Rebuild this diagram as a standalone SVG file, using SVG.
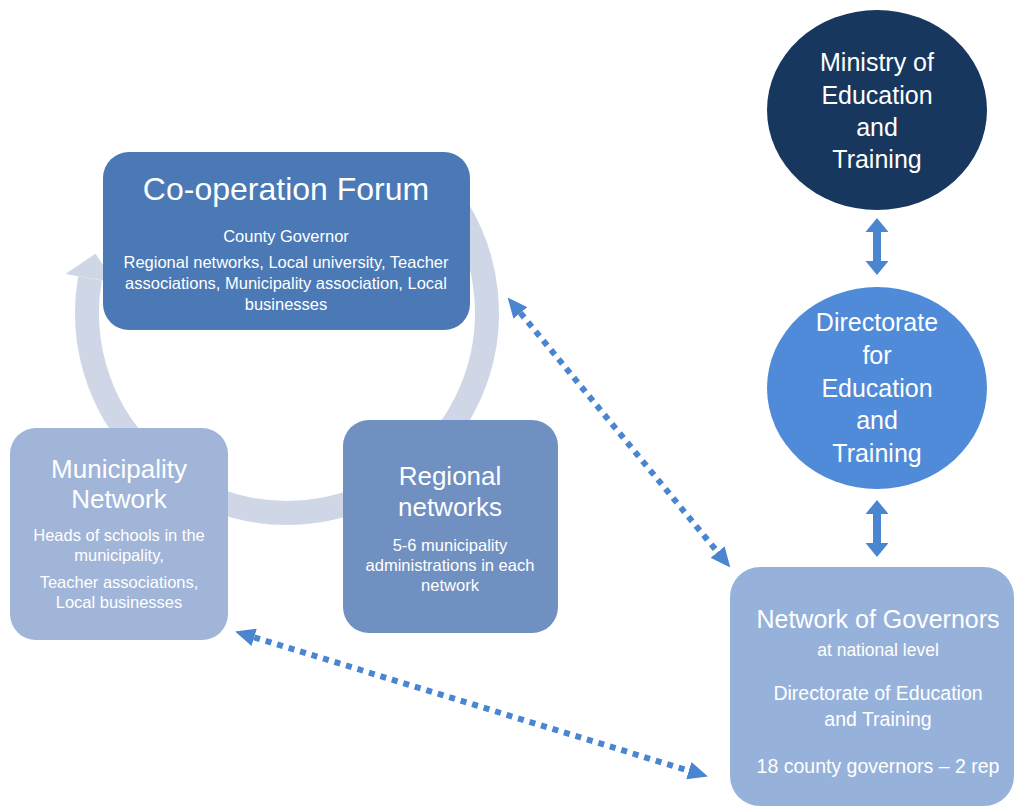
<svg xmlns="http://www.w3.org/2000/svg" width="1016" height="808" viewBox="0 0 1016 808">
  <style>
    text { font-family: "Liberation Sans", Arial, sans-serif; fill: #ffffff; text-anchor: middle; }
    .title { font-size: 26px; }
    .big { font-size: 32px; }
    .body { font-size: 16.5px; }
    .gov { font-size: 19.5px; }
    .circ { font-size: 25px; }
    .dots { stroke: #4a86d0; stroke-width: 6; stroke-dasharray: 6 6; fill: none; }
    .blk { fill: #4a86d0; }
  </style>
  <defs>
    <marker id="ah" viewBox="0 0 20 18" refX="0" refY="9" markerWidth="20" markerHeight="18" markerUnits="userSpaceOnUse" orient="auto-start-reverse">
      <path d="M0,0 L20,9 L0,18 z" fill="#4a86d0"/>
    </marker>
  </defs>
  <rect width="1016" height="808" fill="#ffffff"/>

  <g id="cycle">
    <path d="M456.6,207.0 A200,200 0 1 1 90.0,278.3" fill="none" stroke="#cfd7e7" stroke-width="24"/>
    <polygon points="65.4,274 95.5,253.7 114.6,282.6" fill="#cfd7e7"/>
  </g>

  <g id="coop-forum">
    <rect x="103" y="152" width="367" height="178" rx="26" fill="#4a79b5"/>
    <text class="big" x="286" y="200">Co-operation Forum</text>
    <text class="body" x="286" y="242">County Governor</text>
    <text class="body" x="286" y="268">Regional networks, Local university, Teacher</text>
    <text class="body" x="286" y="289">associations, Municipality association, Local</text>
    <text class="body" x="286" y="310">businesses</text>
  </g>

  <g id="municipality-network">
    <rect x="10" y="428" width="218" height="212" rx="26" fill="#a1b5d9"/>
    <text class="title" x="119" y="478">Municipality</text>
    <text class="title" x="119" y="508">Network</text>
    <text class="body" x="119" y="541">Heads of schools in the</text>
    <text class="body" x="119" y="561">municipality,</text>
    <text class="body" x="119" y="588">Teacher associations,</text>
    <text class="body" x="119" y="608">Local businesses</text>
  </g>

  <g id="regional-networks">
    <rect x="343" y="420" width="215" height="213" rx="26" fill="#7090c2"/>
    <text class="title" x="450" y="485">Regional</text>
    <text class="title" x="450" y="516">networks</text>
    <text class="body" x="450" y="551">5-6 municipality</text>
    <text class="body" x="450" y="571">administrations in each</text>
    <text class="body" x="450" y="591">network</text>
  </g>

  <g id="ministry">
    <ellipse cx="877" cy="110" rx="110" ry="100" fill="#17375e"/>
    <text class="circ" x="877" y="71">Ministry of</text>
    <text class="circ" x="877" y="104">Education</text>
    <text class="circ" x="877" y="136">and</text>
    <text class="circ" x="877" y="168">Training</text>
  </g>

  <g id="directorate">
    <ellipse cx="877" cy="388" rx="110" ry="101" fill="#4f8bd8"/>
    <text class="circ" x="877" y="331">Directorate</text>
    <text class="circ" x="877" y="364">for</text>
    <text class="circ" x="877" y="397">Education</text>
    <text class="circ" x="877" y="429">and</text>
    <text class="circ" x="877" y="462">Training</text>
  </g>

  <g id="network-of-governors">
    <rect x="730" y="567" width="284" height="239" rx="30" fill="#97b2da"/>
    <text x="878" y="628" style="font-size:25px">Network of Governors</text>
    <text class="gov" x="878" y="656" style="font-size:17.5px">at national level</text>
    <text class="gov" x="878" y="700">Directorate of Education</text>
    <text class="gov" x="878" y="726">and Training</text>
    <text class="gov" x="878" y="773">18 county governors – 2 rep</text>
  </g>

  <g id="connectors">
    <polygon class="blk" points="877,218 888.5,232 881,232 881,261 888.5,261 877,275 865.5,261 873,261 873,232 865.5,232"/>
    <polygon class="blk" points="877,500 888.5,514 881,514 881,543 888.5,543 877,557 865.5,543 873,543 873,514 865.5,514"/>
    <line class="dots" x1="520.4" y1="312.9" x2="717.6" y2="552.1" marker-start="url(#ah)" marker-end="url(#ah)"/>
    <line class="dots" x1="254.2" y1="637.3" x2="688.8" y2="770.7" marker-start="url(#ah)" marker-end="url(#ah)"/>
  </g>
</svg>
